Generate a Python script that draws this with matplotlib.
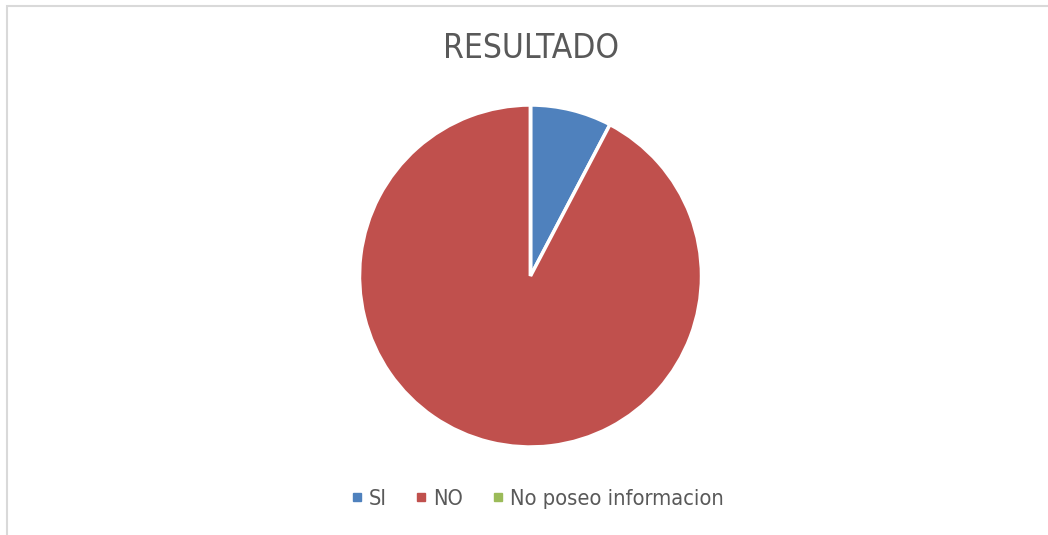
import matplotlib
matplotlib.use("Agg")
import matplotlib.pyplot as plt
from matplotlib.lines import Line2D
from matplotlib.patches import Rectangle
from matplotlib import font_manager

categories = ["SI", "NO", "No poseo informacion"]
values = [1, 12, 0]
colors = ["#4F81BD", "#C0504D", "#9BBB59"]
title = "RESULTADO"

W, H = 1048, 535
fig = plt.figure(figsize=(W / 100, H / 100), dpi=100)
fig.patch.set_facecolor("white")

fig.patches.append(Rectangle((6.5 / W, -0.1), 1.2, (H - 5.5) / H + 0.1,
                             transform=fig.transFigure, fill=False,
                             edgecolor="#D9D9D9", linewidth=1.5))

names = {f.name for f in font_manager.fontManager.ttflist}
narrow = [f for f in font_manager.fontManager.ttflist
          if f.name in ("Liberation Sans Narrow", "DejaVu Sans") and
          ("ondensed" in f.fname or "arrow" in f.fname)]
if "Liberation Sans Narrow" in names:
    fam = ["Liberation Sans Narrow", "DejaVu Sans"]
    stretch = "normal"
elif narrow:
    fam = [narrow[0].name, "DejaVu Sans"]
    stretch = "condensed"
else:
    fam = ["Liberation Sans", "DejaVu Sans"]
    stretch = "normal"

cx, cy, r = 530.5, 276, 171
ax = fig.add_axes([(cx - r) / W, (H - cy - r) / H, 2 * r / W, 2 * r / H])
ax.pie(values, colors=colors, startangle=90, counterclock=False,
       wedgeprops=dict(edgecolor="white", linewidth=2.5))
ax.set_xlim(-1, 1)
ax.set_ylim(-1, 1)
ax.set_aspect("equal")
ax.axis("off")

fig.text(531 / W, 1 - 48 / H, title, ha="center", va="center",
         fontsize=24, color="#595959", family=fam, fontstretch=stretch)

handles = [Line2D([], [], marker="s", linestyle="none", markersize=6,
                  markerfacecolor=c, markeredgecolor=c) for c in colors]
fig.legend(handles, categories, loc="center", bbox_to_anchor=(537 / W, 1 - 499 / H),
           ncol=3, frameon=False, handlelength=0.6, handletextpad=0.25,
           columnspacing=1.3,
           prop=font_manager.FontProperties(family=fam, size=15.7, stretch=stretch),
           labelcolor="#595959")

fig.savefig("out.png", dpi=100, facecolor="white")
